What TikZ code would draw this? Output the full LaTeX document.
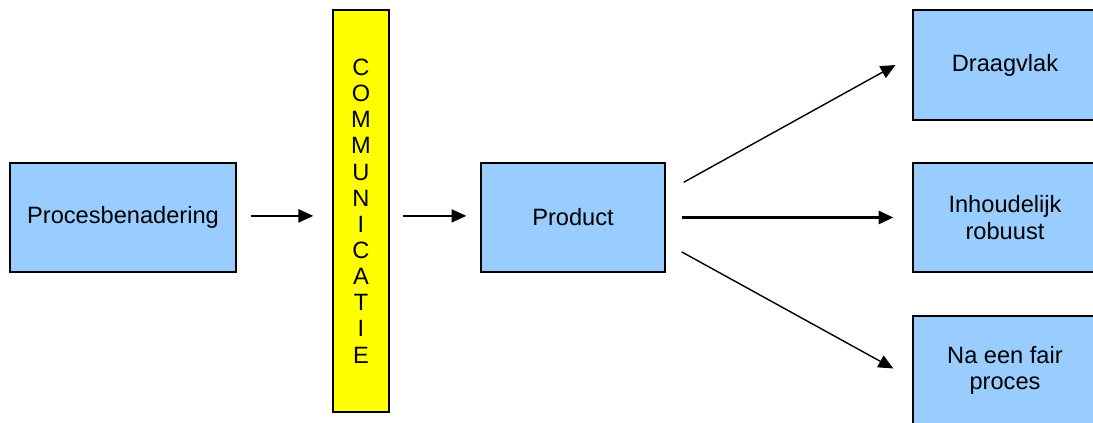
\documentclass[tikz,border=0pt]{standalone}
\usepackage{fontspec}
\setmainfont{Liberation Sans}
\usepackage{tikz}
\usetikzlibrary{arrows.meta,positioning,calc}
\definecolor{boxblue}{RGB}{153,204,255}
\definecolor{baryellow}{RGB}{255,255,0}
\tikzset{
  % lettertype van alle nodes
  every node/.append style={font=\fontsize{16.8}{18.6}\selectfont},
  % blauwe doos
  box/.style={
    draw=black,
    line width=1pt,
    fill=boxblue,
    minimum width=4.6cm,
    minimum height=2.725cm,
    align=center,
    inner sep=0pt
  },
  % gele balk
  bar/.style={
    draw=black,
    line width=1pt,
    fill=baryellow,
    minimum width=1.4cm,
    minimum height=10.05cm,
    align=center,
    inner sep=0pt
  },
  % pijlen
  arr/.style={-{Triangle[length=0.37cm,width=0.33cm]}, line width=1pt},
  thickarr/.style={arr, line width=1.8pt},
}

\begin{document}
\begin{tikzpicture}
        % kader
        \useasboundingbox (0, 0) rectangle (27.325, 10.575);
        \clip (0, 0) rectangle (27.325, 10.575);

        % links
        \node[box, minimum width=5.65cm] (proc) at (3.075, 5.1375) {Procesbenadering};
        \node[bar] (comm) at (9.025, 5.3) {C\\O\\M\\M\\U\\N\\I\\C\\A\\T\\I\\E};
        \node[box] (prod) at (14.325, 5.1375) {Product};

        % rechts
        \node[box, minimum height=2.75cm] (drg) at (25.125, 8.95) {Draagvlak};
        \node[box] (inh) at (25.125, 5.1375) {Inhoudelijk\\robuust};
        \node[box] (fair) at (25.125, 1.3125) {Na een fair\\proces};

        % pijlen
        \draw[arr] ($(proc.east)+(0.35,0.04)$) -- ($(proc.east -| comm.west)+(-0.475,0.04)$);
        \draw[arr] ($(comm.east |- prod.east)+(0.325,0.04)$) -- ($(prod.west)+(-0.35,0.04)$);
        \draw[arr] ($(prod.east)+(0.45,0.88)$) -- ($(drg.west)+(-0.42,0)$);
        \draw[thickarr] ($(prod.east)+(0.4,0)$) -- ($(inh.west)+(-0.475,0)$);
        \draw[arr] ($(prod.east)+(0.4,-0.86)$) -- ($(fair.west)+(-0.475,0.05)$);
    \end{tikzpicture}
\end{document}
